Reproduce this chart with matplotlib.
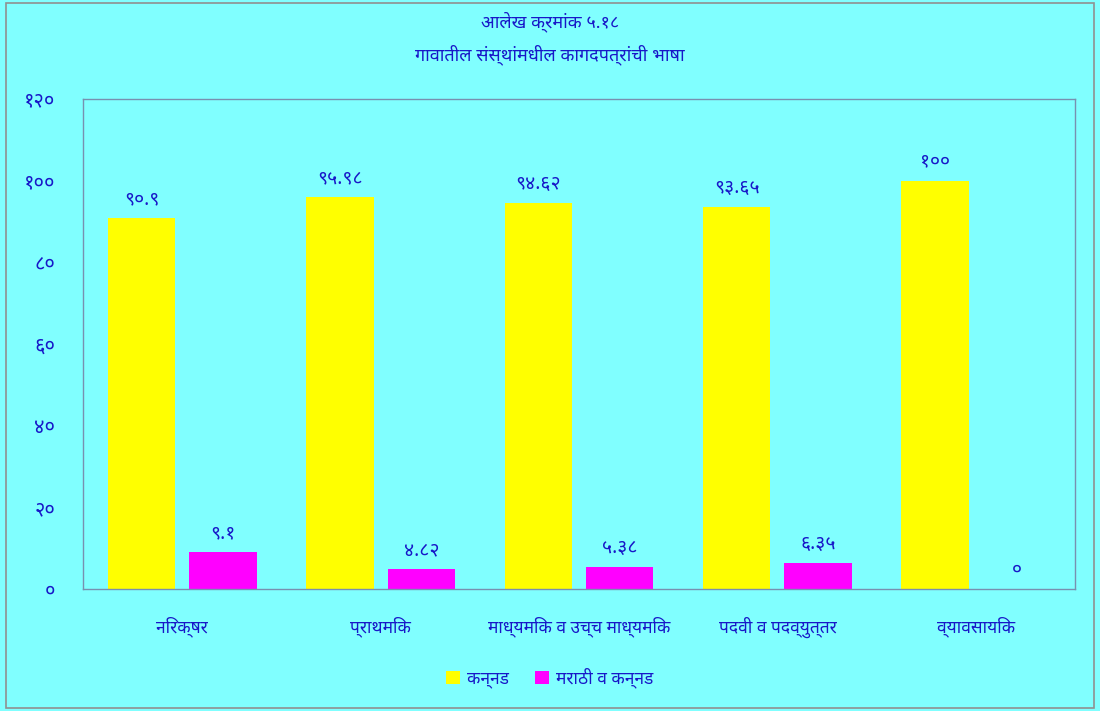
import matplotlib
matplotlib.use("Agg")
import matplotlib.pyplot as plt
from matplotlib.patches import Rectangle
import numpy as np

# Data
categories = ['निरक्षर', 'प्राथमिक', 'माध्यमिक व उच्च माध्यमिक', 'पदवी व पदव्युत्तर', 'व्यावसायिक']
kannada = [90.9, 95.98, 94.62, 93.65, 100]
marathi_kannada = [9.1, 4.82, 5.38, 6.35, 0]
kannada_labels = ['९०.९', '९५.९८', '९४.६२', '९३.६५', '१००']
marathi_labels = ['९.१', '४.८२', '५.३८', '६.३५', '०']
series_names = ['कन्नड', 'मराठी व कन्नड']
ytick_values = [0, 20, 40, 60, 80, 100, 120]
ytick_labels = ['०', '२०', '४०', '६०', '८०', '१००', '१२०']
title = 'आलेख क्रमांक ५.१८\nगावातील संस्थांमधील कागदपत्रांची भाषा'

FONTS = ['Noto Sans Devanagari', 'Noto Sans Devanagari UI', 'Mukta', 'DejaVu Sans']
plt.rcParams['font.family'] = FONTS

BG = '#80FFFF'
TXT = '#1818C8'

fig = plt.figure(figsize=(11, 7.11), dpi=100, facecolor=BG)
ax = fig.add_axes([83 / 1100, 1 - 589 / 711, (1075 - 83) / 1100, (589 - 99) / 711])
ax.set_facecolor(BG)

x = np.arange(len(categories))
w = 0.34
off = 0.205
b1 = ax.bar(x - off, kannada, w, color='#FFFF00', label=series_names[0])
b2 = ax.bar(x + off, marathi_kannada, w, color='#FF00FF', label=series_names[1])

# value labels above the bars
for i in range(len(x)):
    ax.text(x[i] - off, kannada[i] + 2.2, kannada_labels[i], ha='center', va='bottom',
            color=TXT, fontsize=14)
    ax.text(x[i] + off, marathi_kannada[i] + 2.2, marathi_labels[i], ha='center', va='bottom',
            color=TXT, fontsize=14)

ax.set_xlim(-0.5, len(categories) - 0.5)
ax.set_ylim(0, 120)
ax.set_yticks(ytick_values)
ax.set_yticklabels(ytick_labels, color=TXT, fontsize=14.5)
ax.set_xticks(x)
ax.set_xticklabels(categories, color=TXT, fontsize=12.5)
ax.tick_params(axis='y', length=0, pad=20)
ax.tick_params(axis='x', length=0, pad=20)
for s in ax.spines.values():
    s.set_color('#7890B0')
    s.set_linewidth(1)

fig.text(0.5, 1 - 38 / 711, title, ha='center', va='center', color=TXT,
         fontsize=13, linespacing=1.75)

leg = fig.legend(handles=[b1, b2], loc='center', bbox_to_anchor=(0.5, 1 - 678 / 711),
                 ncol=2, frameon=False, fontsize=12.5, handlelength=0.8, handleheight=0.8,
                 handletextpad=0.4, columnspacing=1.5)
for t in leg.get_texts():
    t.set_color(TXT)

fig.patches.append(Rectangle((6 / 1100, 3 / 711), 1088 / 1100, 705 / 711,
                             transform=fig.transFigure, fill=False,
                             edgecolor='#909090', linewidth=1.2))

fig.savefig('out.png', dpi=100, facecolor=BG)
